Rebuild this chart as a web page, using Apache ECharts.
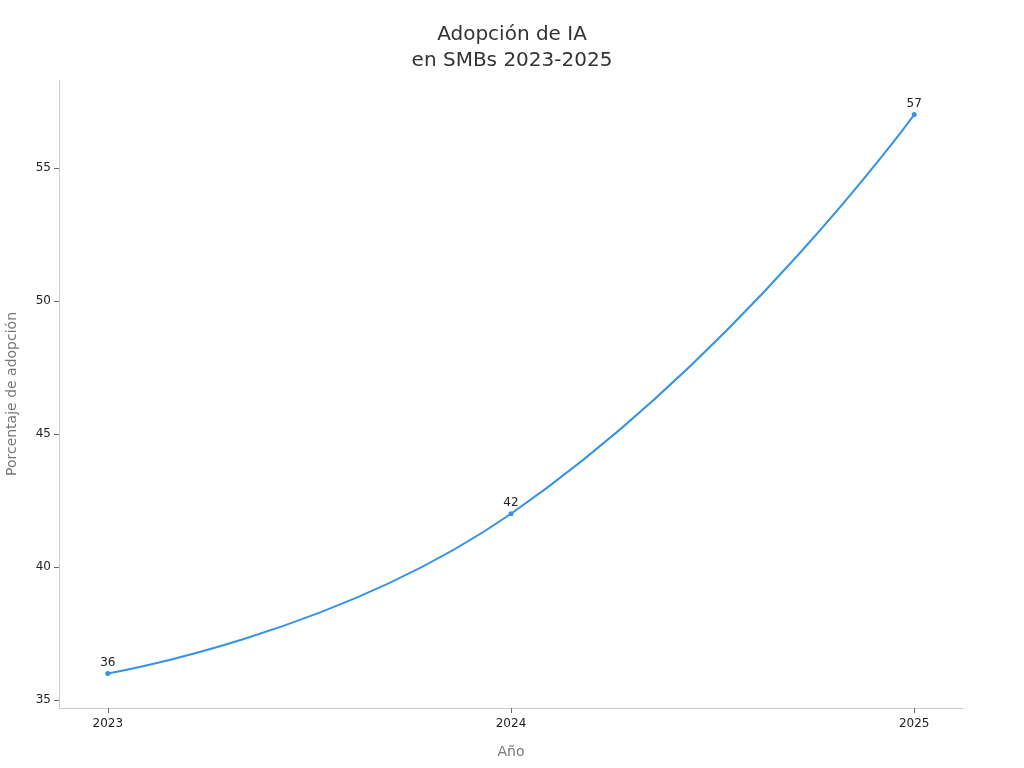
<!DOCTYPE html>
<html>
<head>
<meta charset="utf-8">
<script src="https://cdn.jsdelivr.net/npm/echarts@6/dist/echarts.min.js"></script>
<style>
html,body{margin:0;padding:0;background:#fff;}
#main{width:1024px;height:768px;}
</style>
</head>
<body>
<div id="main"></div>
<script>
//datos del gráfico
var years = [2023, 2024, 2025];
var adopcion = [36, 42, 57];
var yTicks = [35, 40, 45, 50, 55];

var font = 'DejaVu Sans';
var chart = echarts.init(document.getElementById('main'));
var points = [];
for (var i = 0; i < years.length; i++) {
	points.push([years[i], adopcion[i]]);
}
var option = {
	backgroundColor: '#fff',
	animation: false,
	title: {
		text: 'Adopción de IA\nen SMBs 2023-2025',
		left: 'center',
		top: 17,
		textStyle: {
			fontFamily: font,
			fontSize: 20,
			fontWeight: 'normal',
			color: '#333',
			lineHeight: 26
		}
	},
	grid: {
		left: 59,
		right: 61,
		top: 80,
		bottom: 60,
		containLabel: false,
		outerBoundsMode: 'none'
	},
	xAxis: {
		type: 'value',
		min: 2022.879,
		max: 2025.121,
		name: 'Año',
		nameLocation: 'middle',
		nameGap: 37,
		nameTextStyle: {fontFamily: font, fontSize: 14, color: '#777'},
		axisLine: {show: true, lineStyle: {color: '#ccc'}},
		axisTick: {show: true, customValues: years, length: 5, lineStyle: {color: '#666'}},
		splitLine: {show: false},
		axisLabel: {
			customValues: years,
			fontFamily: font,
			fontSize: 12,
			color: '#222',
			margin: 10,
			formatter: function(v){ return String(v); }
		}
	},
	yAxis: {
		type: 'value',
		min: 34.7,
		max: 58.3,
		name: 'Porcentaje de adopción',
		nameLocation: 'middle',
		nameGap: 40,
		nameTextStyle: {fontFamily: font, fontSize: 14, color: '#777'},
		axisLine: {show: true, lineStyle: {color: '#ccc'}},
		axisTick: {show: true, customValues: yTicks, length: 5, lineStyle: {color: '#666'}},
		splitLine: {show: false},
		axisLabel: {
			customValues: yTicks,
			fontFamily: font,
			fontSize: 12,
			color: '#222',
			margin: 8
		}
	},
	series: [{
		type: 'line',
		data: points,
		smooth: true,
		symbol: 'circle',
		symbolSize: 5,
		lineStyle: {color: '#3593e6', width: 2},
		itemStyle: {color: '#3593e6'},
		label: {
			show: true,
			position: 'top',
			distance: 2,
			fontFamily: font,
			fontSize: 12,
			color: '#222',
			formatter: function(p){ return p.value[1]; }
		}
	}]
};
chart.setOption(option);
</script>
</body>
</html>
